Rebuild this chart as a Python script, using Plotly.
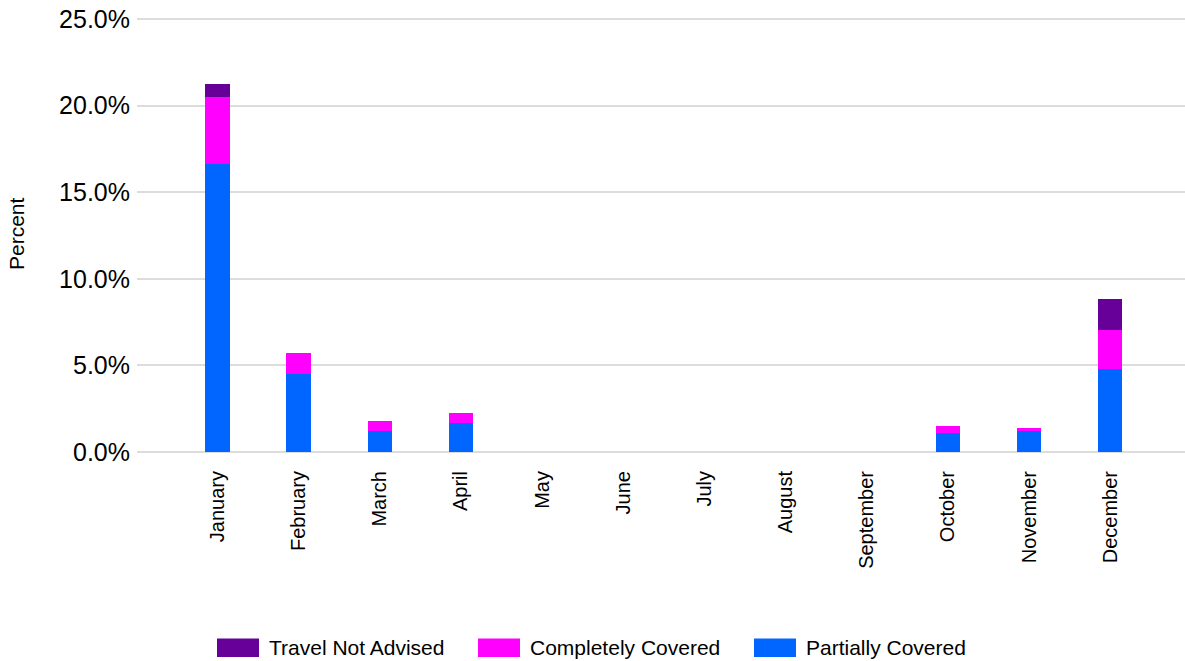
import plotly.graph_objects as go

months = ["January", "February", "March", "April", "May", "June", "July",
          "August", "September", "October", "November", "December"]

# Percent of days per month, by coverage class (stacked bottom to top)
partially_covered = [16.6, 4.5, 1.2, 1.65, 0, 0, 0, 0, 0, 1.1, 1.2, 4.8]
completely_covered = [3.9, 1.2, 0.58, 0.63, 0, 0, 0, 0, 0, 0.43, 0.2, 2.27]
travel_not_advised = [0.75, 0, 0, 0, 0, 0, 0, 0, 0, 0, 0, 1.75]

y_ticks = [0, 5, 10, 15, 20, 25]
y_tick_labels = ["0.0%", "5.0%", "10.0%", "15.0%", "20.0%", "25.0%"]

series = [
    ("Partially Covered", partially_covered, "#0066FF"),
    ("Completely Covered", completely_covered, "#FF00FF"),
    ("Travel Not Advised", travel_not_advised, "#660099"),
]

W, H = 1185, 661
ML, MR, MT, MB = 137, 0, 16, 209
PW, PH = W - ML - MR, H - MT - MB
Y_MAX = 25.17

FONT = "Liberation Sans, Arial, sans-serif"

fig = go.Figure()
for name, vals, color in series:
    fig.add_trace(go.Bar(
        x=months, y=vals, name=name, width=0.3,
        marker=dict(color=color, line=dict(width=0)),
        showlegend=False,
        hovertemplate="%{x}: %{y:.1f}%<extra>" + name + "</extra>",
    ))


def px_x(p):
    return (p - ML) / PW


def px_y(p):
    return (H - MB - p) / PH


# Legend drawn as swatches + labels along the bottom
legend_items = [
    ("Travel Not Advised", "#660099", 217),
    ("Completely Covered", "#FF00FF", 478),
    ("Partially Covered", "#0066FF", 754),
]
shapes = []
annotations = []
for label, color, left in legend_items:
    shapes.append(dict(type="rect", xref="paper", yref="paper",
                       x0=px_x(left), x1=px_x(left + 42),
                       y0=px_y(657), y1=px_y(638.5),
                       fillcolor=color, line=dict(width=0)))
    annotations.append(dict(text=label, xref="paper", yref="paper",
                            x=px_x(left + 50), y=px_y(647.5),
                            xanchor="left", yanchor="middle", showarrow=False,
                            font=dict(family=FONT, size=21, color="#000000")))

annotations.append(dict(text="Percent", xref="paper", yref="paper",
                        x=px_x(16), y=px_y(234), textangle=-90,
                        xanchor="center", yanchor="middle", showarrow=False,
                        font=dict(family=FONT, size=21, color="#000000")))

fig.update_layout(
    width=W, height=H,
    margin=dict(l=ML, r=MR, t=MT, b=MB, pad=0),
    barmode="stack",
    plot_bgcolor="white", paper_bgcolor="white",
    shapes=shapes, annotations=annotations,
    font=dict(family=FONT, color="#000000"),
)
fig.update_xaxes(
    type="category", range=[-0.99, 11.92],
    tickangle=-90, tickfont=dict(size=20, family=FONT, color="#000000"),
    showgrid=False, showline=False, ticks="", ticklabelstandoff=14,
)
fig.update_yaxes(
    range=[0, Y_MAX], tickmode="array", tickvals=y_ticks, ticktext=y_tick_labels,
    tickfont=dict(size=25, family=FONT, color="#000000"),
    showgrid=True, gridcolor="#DCDCDC", gridwidth=2,
    zeroline=True, zerolinecolor="#DCDCDC", zerolinewidth=2,
    showline=False, ticks="", ticklabelstandoff=6,
)

fig.write_html("out.html")
